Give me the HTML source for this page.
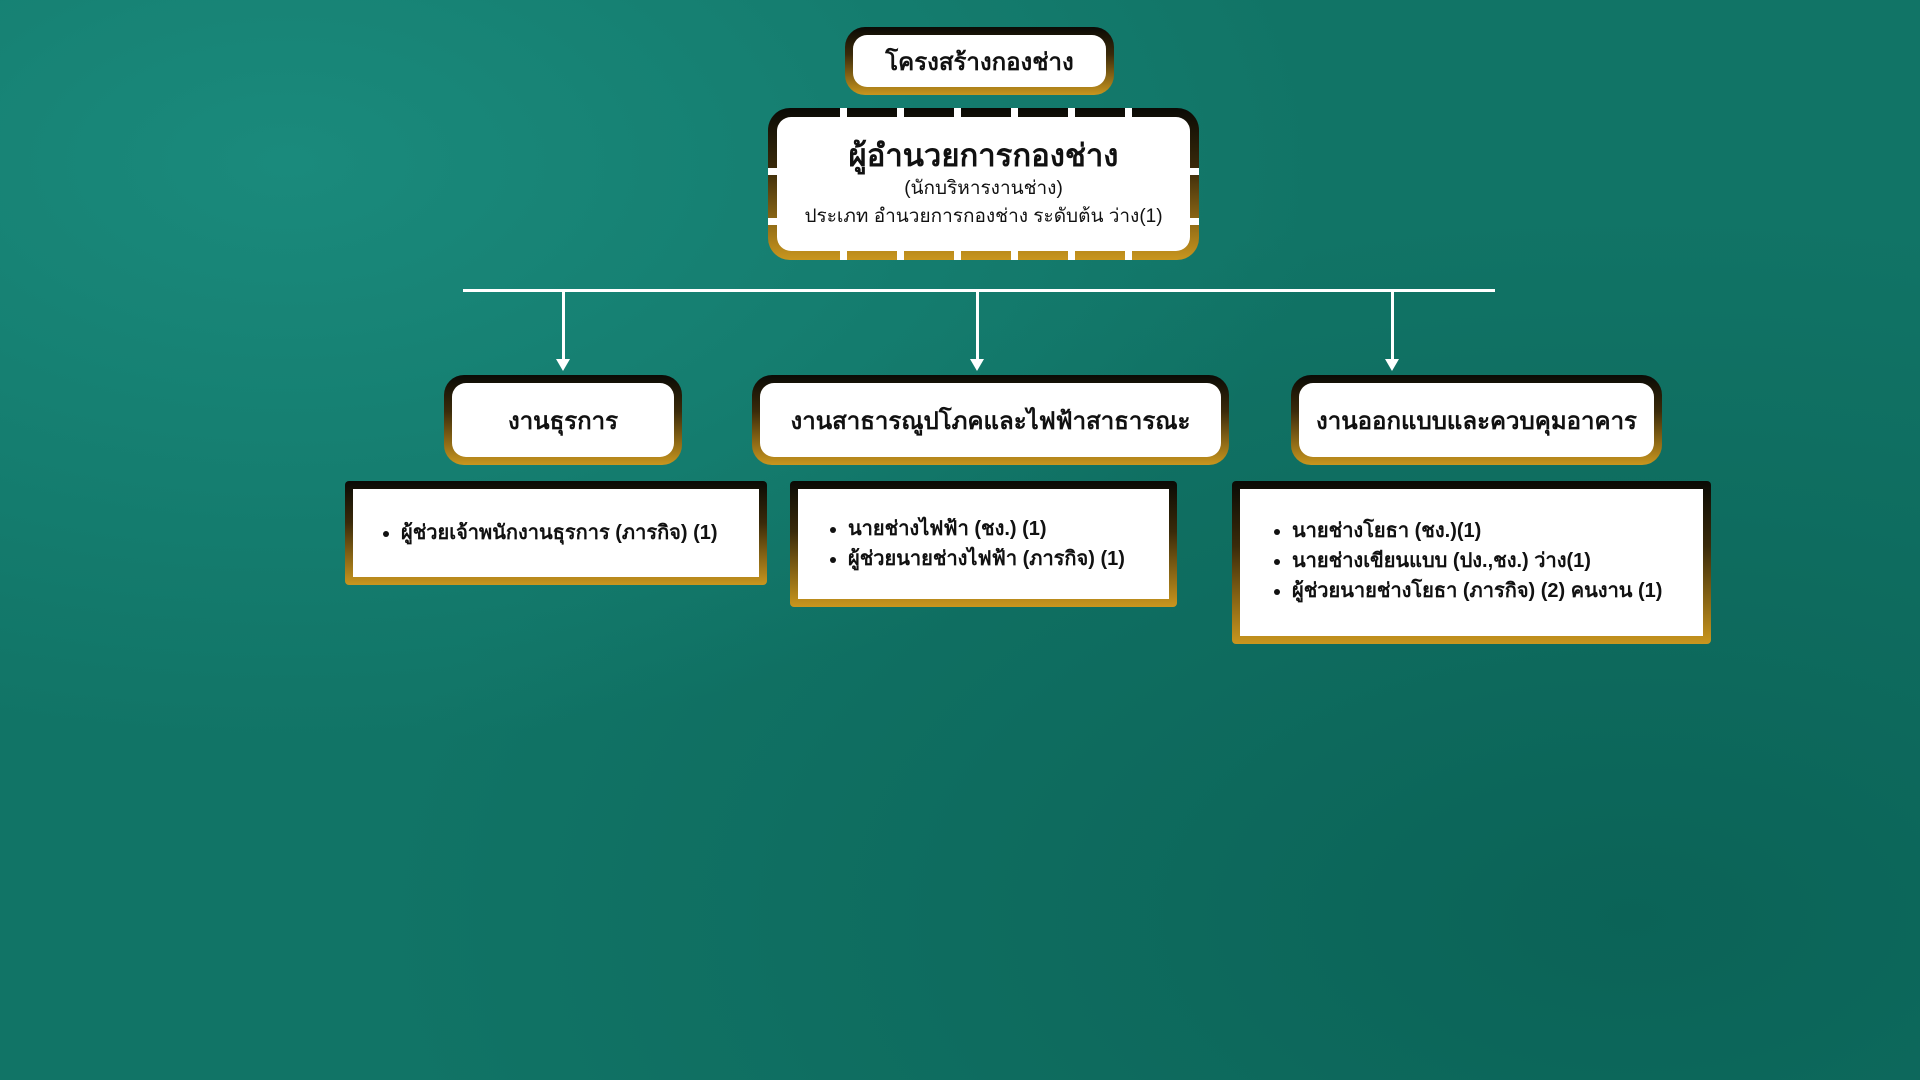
<!DOCTYPE html>
<html><head><meta charset="utf-8"><style>
body{margin:0;width:1920px;height:1080px;overflow:hidden;position:relative;
background:radial-gradient(ellipse at 15% 15%,#1a8a7c 0%,transparent 45%),radial-gradient(ellipse at 85% 85%,#0b6357 0%,transparent 55%),#117466;
font-family:"Liberation Sans","Noto Sans CJK SC",sans-serif;}
.b{position:absolute;box-sizing:border-box;padding:8px;background:linear-gradient(#0a0a05,#3a2a0a 40%,#c9961e);}
.b>div{background:#fff;width:100%;height:100%;box-sizing:border-box;display:flex;flex-direction:column;align-items:center;justify-content:center;color:#111;}
.r{border-radius:20px}.r>div{border-radius:14px}
.t{font-weight:bold;font-size:24px}
ul{margin:0;padding-left:30px;font-weight:bold;font-size:20px;line-height:30px;align-self:flex-start}
.ln{position:absolute;background:#fff}
.ar{position:absolute;width:0;height:0;border-left:7px solid transparent;border-right:7px solid transparent;border-top:12px solid #fff}
.dh{position:absolute;height:10px;background:repeating-linear-gradient(90deg,transparent 0 50px,#fff 50px 57px)}
.dv{position:absolute;width:10px;background:repeating-linear-gradient(180deg,transparent 0 43px,#fff 43px 50px)}
</style></head><body>
<div class="b r" style="left:845px;top:27px;width:269px;height:68px"><div class="t">โครงสร้างกองช่าง</div></div>
<div class="b" style="left:768px;top:108px;width:431px;height:152px;border-radius:22px;padding:9px">
<div style="border-radius:14px">
<div style="font-weight:bold;font-size:31px;line-height:38px">ผู้อำนวยการกองช่าง</div>
<div style="font-size:19px;line-height:28px">(นักบริหารงานช่าง)</div>
<div style="font-size:19px;line-height:28px">ประเภท อำนวยการกองช่าง ระดับต้น ว่าง(1)</div>
</div></div>
<div class="dh" style="left:790px;top:108px;width:390px"></div>
<div class="dh" style="left:790px;top:250px;width:390px"></div>
<div class="dv" style="left:768px;top:125px;height:110px"></div>
<div class="dv" style="left:1189px;top:125px;height:110px"></div>
<div class="ln" style="left:463px;top:289px;width:1032px;height:3px"></div>
<div class="ln" style="left:562px;top:291px;width:3px;height:68px"></div>
<div class="ln" style="left:976px;top:291px;width:3px;height:68px"></div>
<div class="ln" style="left:1391px;top:291px;width:3px;height:68px"></div>
<div class="ar" style="left:556px;top:359px"></div>
<div class="ar" style="left:970px;top:359px"></div>
<div class="ar" style="left:1385px;top:359px"></div>
<div class="b r" style="left:444px;top:375px;width:238px;height:90px"><div class="t">งานธุรการ</div></div>
<div class="b r" style="left:752px;top:375px;width:477px;height:90px"><div class="t">งานสาธารณูปโภคและไฟฟ้าสาธารณะ</div></div>
<div class="b r" style="left:1291px;top:375px;width:371px;height:90px"><div class="t">งานออกแบบและควบคุมอาคาร</div></div>
<div class="b" style="left:345px;top:481px;width:422px;height:104px;border-radius:4px"><div><ul style="padding-left:48px"><li>ผู้ช่วยเจ้าพนักงานธุรการ (ภารกิจ) (1)</li></ul></div></div>
<div class="b" style="left:790px;top:481px;width:387px;height:126px;border-radius:4px"><div><ul style="padding-left:50px"><li>นายช่างไฟฟ้า (ชง.) (1)</li><li>ผู้ช่วยนายช่างไฟฟ้า (ภารกิจ) (1)</li></ul></div></div>
<div class="b" style="left:1232px;top:481px;width:479px;height:163px;border-radius:4px"><div style="justify-content:flex-start;padding-top:27px"><ul style="padding-left:52px"><li>นายช่างโยธา (ชง.)(1)</li><li>นายช่างเขียนแบบ (ปง.,ชง.) ว่าง(1)</li><li>ผู้ช่วยนายช่างโยธา (ภารกิจ) (2) คนงาน (1)</li></ul></div></div>
</body></html>
